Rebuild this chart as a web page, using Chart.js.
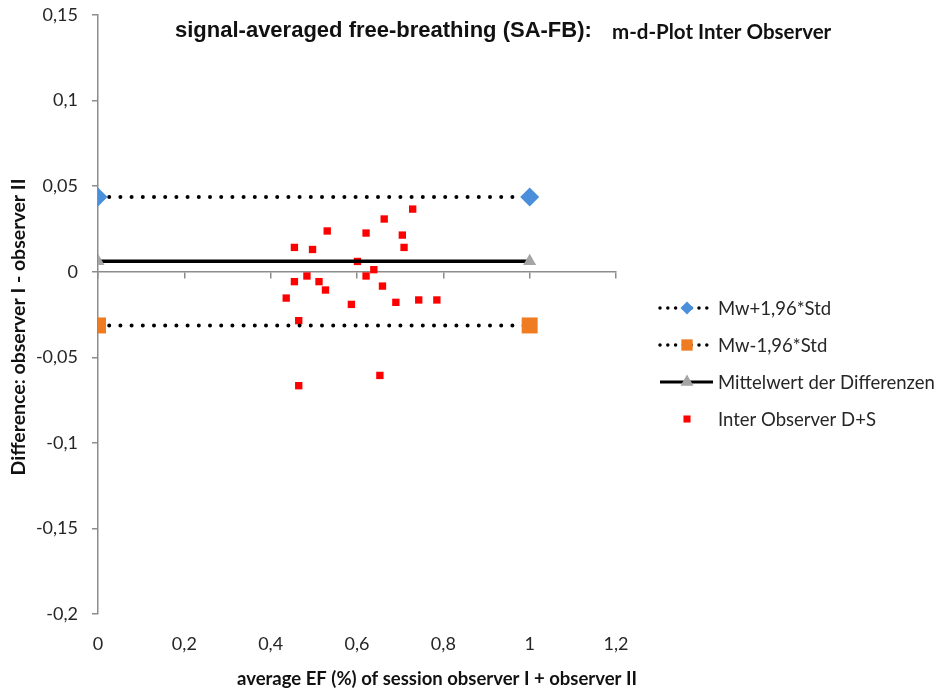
<!DOCTYPE html>
<html>
<head>
<meta charset="utf-8">
<script src="https://cdn.jsdelivr.net/npm/chart.js@4/dist/chart.umd.min.js"></script>
<style>
html, body { margin: 0; padding: 0; background: #fff; }
#wrap { width: 944px; height: 690px; }
</style>
</head>
<body>
<div id="wrap"><canvas id="c"></canvas></div>
<script>
// values
var lineX = [0, 1];
var upperY = [0.0436, 0.0436];
var lowerY = [-0.0314, -0.0314];
var meanY = [0.0061, 0.0061];
var obsX = [0.729, 0.663, 0.531, 0.621, 0.705, 0.455, 0.497, 0.709, 0.601, 0.639, 0.621, 0.484,
            0.455, 0.512, 0.527, 0.659, 0.436, 0.587, 0.690, 0.743, 0.785, 0.465, 0.653, 0.465];
var obsY = [0.0366, 0.0308, 0.0238, 0.0226, 0.0214, 0.0142, 0.0130, 0.0142, 0.0060, 0.0012, -0.0025, -0.0025,
            -0.0058, -0.0058, -0.0107, -0.0084, -0.0154, -0.0191, -0.0179, -0.0165, -0.0165, -0.0286, -0.0606, -0.0666];
var xTicks = [0, 0.2, 0.4, 0.6, 0.8, 1, 1.2];
var yTicks = [0.15, 0.1, 0.05, 0, -0.05, -0.1, -0.15, -0.2];
var seriesNames = ['Mw+1,96*Std', 'Mw-1,96*Std', 'Mittelwert der Differenzen', 'Inter Observer D+S'];
var chartTitle = 'signal-averaged free-breathing (SA-FB):';
var chartSubTitle = 'm-d-Plot Inter Observer';
var xTitle = 'average EF (%) of session observer I + observer II';
var yTitle = 'Difference: observer I - observer II';

function pts(xs, ys) {
  return xs.map(function (x, i) { return { x: x, y: ys[i] }; });
}
function comma(v) {
  return String(Math.round(v * 100) / 100).replace('.', ',');
}

var FONT = 'Lato, "Open Sans", sans-serif';
var AXIS = '#8c8c8c';

var textPlugin = {
  id: 'texts',
  afterDraw: function (chart) {
    var ctx = chart.ctx;
    ctx.save();
    ctx.fillStyle = '#111';
    ctx.textBaseline = 'middle';
    ctx.textAlign = 'left';
    ctx.font = 'bold 22px "Liberation Sans", Arial, sans-serif';
    ctx.fillText(chartTitle, 175, 31);
    ctx.font = 'bold 20.5px ' + FONT;
    ctx.fillText(chartSubTitle, 612, 32);

    ctx.textAlign = 'center';
    ctx.font = 'bold 18.5px ' + FONT;
    ctx.fillText(xTitle, 437, 679);
    ctx.font = 'bold 19.5px ' + FONT;
    ctx.translate(19, 327);
    ctx.rotate(-Math.PI / 2);
    ctx.fillText(yTitle, 0, 0);
    ctx.restore();

    // legend
    ctx.save();
    chart.data.datasets.forEach(function (ds, i) {
      var y = 308 + i * 37;
      if (ds.showLine) {
        ctx.beginPath();
        ctx.strokeStyle = ds.borderColor;
        ctx.lineWidth = ds.legendLineWidth;
        ctx.lineCap = ds.borderCapStyle || 'butt';
        ctx.setLineDash(ds.legendDash || []);
        ctx.moveTo(660, y);
        ctx.lineTo(713, y);
        ctx.stroke();
        ctx.setLineDash([]);
      }
      ctx.fillStyle = ds.pointBackgroundColor;
      ctx.strokeStyle = ds.pointBackgroundColor;
      Chart.helpers.drawPoint(ctx, {
        pointStyle: ds.pointStyle, rotation: 0,
        radius: ds.legendRadius, borderWidth: 0
      }, 687, y);
      ctx.fillStyle = '#262626';
      ctx.font = '18.5px ' + FONT;
      ctx.textAlign = 'left';
      ctx.textBaseline = 'middle';
      ctx.fillText(ds.label, 718, y + 1);
    });
    ctx.restore();
  }
};

new Chart(document.getElementById('c'), {
  type: 'scatter',
  data: {
    datasets: [{
      label: seriesNames[0],
      data: pts(lineX, upperY),
      showLine: true,
      borderColor: '#000',
      borderWidth: 4,
      borderCapStyle: 'round',
      borderDash: [0, 11.2],
      legendDash: [0, 7.8],
      legendLineWidth: 3.5,
      pointStyle: 'rectRot',
      pointRadius: 9.5,
      pointHoverRadius: 9.5,
      legendRadius: 6.5,
      pointBackgroundColor: '#4a8fdb',
      pointBorderColor: '#4a8fdb',
      pointBorderWidth: 0
    }, {
      label: seriesNames[1],
      data: pts(lineX, lowerY),
      showLine: true,
      borderColor: '#000',
      borderWidth: 4,
      borderCapStyle: 'round',
      borderDash: [0, 11.2],
      legendDash: [0, 7.8],
      legendLineWidth: 3.5,
      pointStyle: 'rect',
      pointRadius: 11.3,
      pointHoverRadius: 11.3,
      legendRadius: 8,
      pointBackgroundColor: '#f07c22',
      pointBorderColor: '#f07c22',
      pointBorderWidth: 0
    }, {
      label: seriesNames[2],
      data: pts(lineX, meanY),
      showLine: true,
      borderColor: '#000',
      borderWidth: 3.5,
      legendLineWidth: 3,
      pointStyle: 'triangle',
      pointRadius: 7.5,
      pointHoverRadius: 7.5,
      legendRadius: 7.5,
      pointBackgroundColor: '#a5a5a5',
      pointBorderColor: '#a5a5a5',
      pointBorderWidth: 0
    }, {
      label: seriesNames[3],
      data: pts(obsX, obsY),
      showLine: false,
      pointStyle: 'rect',
      pointRadius: 5.2,
      pointHoverRadius: 5.2,
      legendRadius: 5,
      pointBackgroundColor: '#ff0000',
      pointBorderColor: '#ff0000',
      pointBorderWidth: 0
    }]
  },
  options: {
    responsive: true,
    maintainAspectRatio: false,
    animation: false,
    events: [],
    layout: { padding: { left: 0, right: 328, top: 15, bottom: 0 } },
    plugins: {
      legend: { display: false },
      title: { display: false },
      tooltip: { enabled: false }
    },
    scales: {
      x: {
        type: 'linear',
        position: { y: 0 },
        min: 0, max: 1.2,
        afterBuildTicks: function (s) { s.ticks = xTicks.map(function (v) { return { value: v }; }); },
        ticks: { display: false },
        grid: { display: true, drawOnChartArea: false, drawTicks: true, tickLength: 6, color: AXIS, lineWidth: 1.5 },
        border: { display: true, color: AXIS, width: 1.5 }
      },
      xb: {
        type: 'linear',
        position: 'bottom',
        min: 0, max: 1.2,
        afterBuildTicks: function (s) { s.ticks = xTicks.map(function (v) { return { value: v }; }); },
        afterFit: function (s) { s.height = 76; },
        ticks: {
          padding: 11, color: '#262626', font: { family: FONT, size: 18 },
          maxRotation: 0, autoSkip: false,
          callback: function (v) { return comma(v); }
        },
        grid: { display: false },
        border: { display: false }
      },
      y: {
        type: 'linear',
        position: 'left',
        min: -0.2, max: 0.15,
        afterBuildTicks: function (s) { s.ticks = yTicks.map(function (v) { return { value: v }; }); },
        afterFit: function (s) { s.width = 98; s.paddingTop = 10; s.paddingBottom = 10; },
        ticks: {
          padding: 14, color: '#262626', font: { family: FONT, size: 18 },
          autoSkip: false,
          callback: function (v) { return comma(v); }
        },
        grid: { display: true, drawOnChartArea: false, drawTicks: true, tickLength: 6, color: AXIS, lineWidth: 1.5 },
        border: { display: true, color: AXIS, width: 1.5 }
      }
    }
  },
  plugins: [textPlugin]
});
</script>
</body>
</html>
